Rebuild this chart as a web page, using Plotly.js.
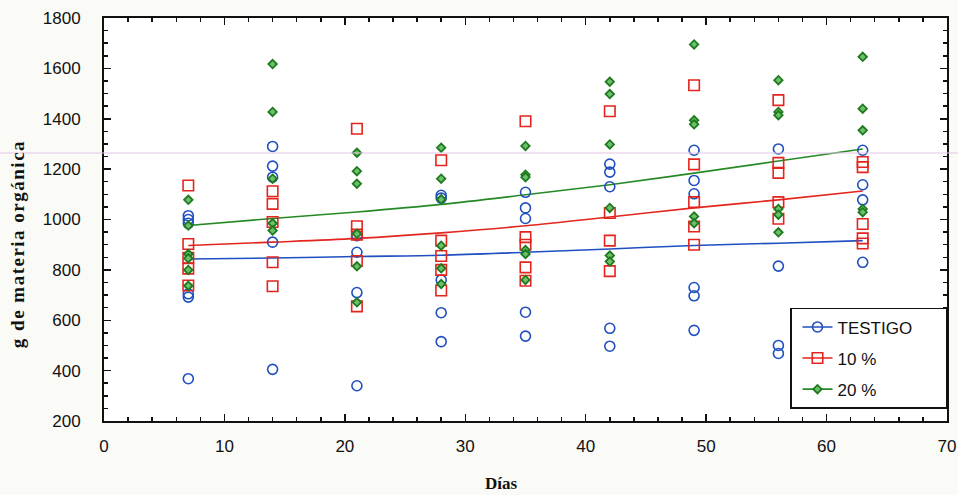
<!DOCTYPE html>
<html>
<head>
<meta charset="utf-8">
<script src="https://cdn.plot.ly/plotly-3.0.1.min.js"></script>
<style>
html,body{margin:0;padding:0;background:#fafaf6;}
#chart{width:958px;height:495px;}
g.annotation[data-index="0"] text{letter-spacing:1.5px;}
</style>
</head>
<body>
<div id="chart"></div>
<script>
// ---- data ----
const seriesNames = ["TESTIGO", "10 %", "20 %"];
const xTitle = "Días";
const yTitle = "g de materia orgánica";

const testigoDays = [7,7,7,7,7,7, 14,14,14,14,14, 21,21,21,21, 28,28,28,28,28, 35,35,35,35,35, 42,42,42,42,42, 49,49,49,49,49,49, 56,56,56,56, 63,63,63,63];
const testigoVals = [1015,1000,985,705,692,368, 1290,1212,1168,910,405, 936,870,710,340, 1096,1085,760,630,515, 1108,1046,1004,632,537, 1220,1188,1130,568,497, 1275,1155,1102,730,697,560, 1280,815,500,468, 1275,1138,1078,830];

const diez_Days = [7,7,7,7,7, 14,14,14,14,14, 21,21,21,21,21, 28,28,28,28,28, 35,35,35,35,35, 42,42,42,42, 49,49,49,49,49, 56,56,56,56,56, 63,63,63,63,63];
const diez_Vals = [1135,903,848,805,738, 1112,1062,990,830,735, 1360,973,940,835,655, 1235,916,855,800,718, 1390,930,900,810,757, 1430,1026,916,795, 1533,1219,1069,972,900, 1474,1225,1185,1069,1003, 1228,1208,982,925,905];

const veinteDays = [7,7,7,7,7,7, 14,14,14,14,14, 21,21,21,21,21,21, 28,28,28,28,28,28, 35,35,35,35,35,35, 42,42,42,42,42,42, 49,49,49,49,49, 56,56,56,56,56,56, 63,63,63,63,63];
const veinteVals = [1078,976,863,846,800,737, 1617,1427,1162,985,956, 1265,1192,1142,943,814,671, 1285,1162,1080,896,806,744, 1292,1178,1168,879,863,760, 1547,1498,1298,1046,857,833, 1695,1394,1378,1012,985, 1553,1427,1414,1042,1019,949, 1646,1440,1354,1042,1029];

// fitted curves, read at each sampling day
const fitDays = [7,14,21,28,35,42,49,56,63];
const fitTestigo = [843,847,853,858,870,883,897,906,916];
const fitDiez = [897,910,925,947,975,1010,1046,1078,1113];
const fitVeinte = [976,1004,1030,1060,1098,1138,1184,1232,1280];

const xTickVals = [0,10,20,30,40,50,60,70];
const yTickVals = [200,400,600,800,1000,1200,1400,1600,1800];

// ---- styles ----
const cBlue = "#1f4fc0", cRed = "#e3251e", cGreen = "#258a25";
const mBlue = {symbol:"circle-open", size:10, color:cBlue, line:{width:1.6, color:cBlue}};
const mRed = {symbol:"square-open", size:10.5, color:cRed, line:{width:1.6, color:cRed}};
const mGreen = {symbol:"diamond", size:6.5, color:"#6cc06c", line:{width:1.8, color:"#1e7a1e"}};
const pad = "\u00a0\u00a0\u00a0\u00a0\u00a0\u00a0";

const traces = [
  {x:fitDays, y:fitTestigo, mode:"lines", line:{color:cBlue, width:1.6, shape:"spline"}, showlegend:false, hoverinfo:"skip"},
  {x:fitDays, y:fitDiez, mode:"lines", line:{color:cRed, width:1.6, shape:"spline"}, showlegend:false, hoverinfo:"skip"},
  {x:fitDays, y:fitVeinte, mode:"lines", line:{color:cGreen, width:1.6, shape:"spline"}, showlegend:false, hoverinfo:"skip"},
  {x:testigoDays, y:testigoVals, mode:"markers", marker:mBlue, showlegend:false, name:seriesNames[0]},
  {x:diez_Days, y:diez_Vals, mode:"markers", marker:mRed, showlegend:false, name:seriesNames[1]},
  {x:veinteDays, y:veinteVals, mode:"markers", marker:mGreen, showlegend:false, name:seriesNames[2]},
  // legend entries (line + marker)
  {x:[null], y:[null], mode:"lines+markers", name:seriesNames[0]+pad, legendgroup:"a", line:{color:cBlue, width:1.6}, marker:mBlue},
  {x:[null], y:[null], mode:"lines+markers", name:seriesNames[1], legendgroup:"b", line:{color:cRed, width:1.6}, marker:mRed},
  {x:[null], y:[null], mode:"lines+markers", name:seriesNames[2], legendgroup:"c", line:{color:cGreen, width:1.6}, marker:mGreen}
];

const tickFont = {family:"Liberation Sans, Arial, sans-serif", size:17, color:"#111"};
const titleFont = {family:"Liberation Serif, Times New Roman, serif", size:19, color:"#111", weight:700};

const layout = {
  width:958, height:495,
  paper_bgcolor:"#fafaf6", plot_bgcolor:"#ffffff",
  margin:{l:104, r:11, t:18, b:74},
  showlegend:true,
  legend:{x:1, xanchor:"right", y:0.03, yanchor:"bottom", bgcolor:"#ffffff", bordercolor:"#111", borderwidth:1.5,
          font:{family:"Liberation Sans, Arial, sans-serif", size:17, color:"#111"}, tracegroupgap:6, indentation:6},
  xaxis:{range:[0,70], tickvals:xTickVals, ticks:"inside", ticklen:7, tickwidth:1.5, tickcolor:"#111",
         minor:{dtick:2, ticks:"inside", ticklen:4, tickcolor:"#111"},
         showline:true, linecolor:"#111", linewidth:2, mirror:"allticks", showgrid:false, zeroline:false,
         tickfont:tickFont, ticklabelstandoff:9},
  yaxis:{range:[200,1800], tickvals:yTickVals, ticks:"inside", ticklen:7, tickwidth:1.5, tickcolor:"#111",
         minor:{dtick:50, ticks:"inside", ticklen:4, tickcolor:"#111"},
         showline:true, linecolor:"#111", linewidth:2, mirror:"allticks", showgrid:false, zeroline:false,
         tickfont:tickFont, ticklabelstandoff:18},
  annotations:[
    {text:yTitle, xref:"paper", yref:"paper", x:-0.1023, y:0.44, textangle:-90, showarrow:false,
     xanchor:"center", yanchor:"middle", font:titleFont},
    {text:xTitle, xref:"paper", yref:"paper", x:0.471, y:-0.156, showarrow:false,
     xanchor:"center", yanchor:"middle", font:{family:titleFont.family, size:17, color:"#111", weight:700}}
  ],
  shapes:[{type:"line", xref:"paper", yref:"paper", x0:-0.124, x1:1.014, y0:0.665, y1:0.665,
           line:{color:"#e2c6e6", width:1}, layer:"above"}]
};

Plotly.newPlot("chart", traces, layout, {displayModeBar:false, staticPlot:true});
</script>
</body>
</html>
